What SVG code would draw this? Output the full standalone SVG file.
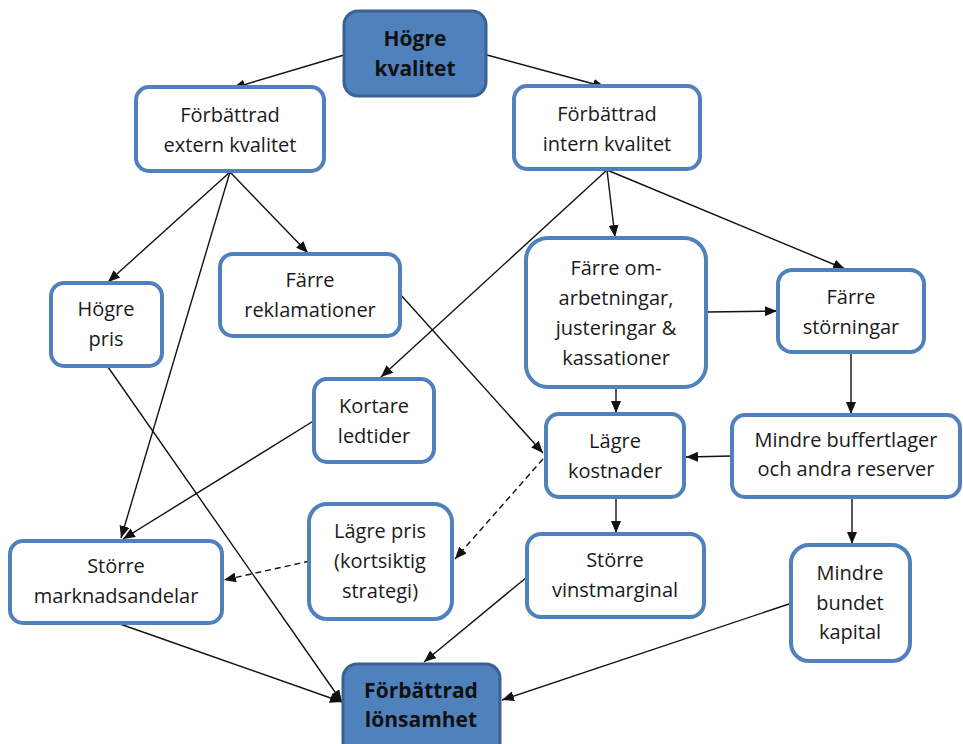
<svg xmlns="http://www.w3.org/2000/svg" width="963" height="744" viewBox="0 0 963 744">
  <style>
    .box { fill: #ffffff; stroke: #4f81bd; stroke-width: 4; }
    .key { fill: #4f81bd; stroke: #3b6190; stroke-width: 3; }
    .lbl { font-family: "Open Sans", "Liberation Sans", sans-serif; font-size: 20px; fill: #1a1a1a; text-anchor: middle; }
    .bold { font-weight: bold; font-size: 21px; fill: #111111; }
    .edge { stroke: #111111; stroke-width: 1.4; fill: none; marker-end: url(#arrow); }
    .dash { stroke-dasharray: 6 4; }
  </style>
  <defs>
    <marker id="arrow" viewBox="0 0 12 10" refX="12" refY="5" markerWidth="12" markerHeight="10" orient="auto" markerUnits="userSpaceOnUse">
      <path d="M0,0 L12,5 L0,10 z" fill="#111111"/>
    </marker>
  </defs>

  <rect width="963" height="744" fill="#ffffff"/>

  <!-- connectors -->
  <g id="connectors">
    <path class="edge" d="M344,55 L233,88"/>
    <path class="edge" d="M487,55 L605,87"/>
    <path class="edge" d="M230,172 L108,282"/>
    <path class="edge" d="M230,172 L308,253"/>
    <path class="edge" d="M230,172 L121,538"/>
    <path class="edge" d="M607,170 L381,377"/>
    <path class="edge" d="M607,170 L615,237"/>
    <path class="edge" d="M607,170 L845,269"/>
    <path class="edge" d="M108,367 L342,702"/>
    <path class="edge" d="M315,420 L123,539"/>
    <path class="edge" d="M400,294 L543,453"/>
    <path class="edge" d="M616,388 L616,413"/>
    <path class="edge" d="M707,312 L777,311"/>
    <path class="edge" d="M851,353 L851,414"/>
    <path class="edge" d="M732,456 L686,457"/>
    <path class="edge" d="M852,497 L852,544"/>
    <path class="edge" d="M616,498 L616,533"/>
    <path class="edge dash" d="M543,459 L455,559"/>
    <path class="edge dash" d="M310,561 L224,580"/>
    <path class="edge" d="M120,624 L342,702"/>
    <path class="edge" d="M527,577 L424,662"/>
    <path class="edge" d="M792,603 L502,700"/>
  </g>

  <!-- nodes -->
  <g id="hogre-kvalitet">
    <rect class="key" x="344" y="11" width="142" height="85" rx="14"/>
    <text class="lbl bold" x="415" y="46">Högre</text>
    <text class="lbl bold" x="415" y="76">kvalitet</text>
  </g>
  <g id="extern-kvalitet">
    <rect class="box" x="136" y="87" width="188" height="84" rx="13"/>
    <text class="lbl" x="230" y="122">Förbättrad</text>
    <text class="lbl" x="230" y="152">extern kvalitet</text>
  </g>
  <g id="intern-kvalitet">
    <rect class="box" x="514" y="86" width="186" height="83" rx="13"/>
    <text class="lbl" x="607" y="121">Förbättrad</text>
    <text class="lbl" x="607" y="151">intern kvalitet</text>
  </g>
  <g id="hogre-pris">
    <rect class="box" x="51" y="283" width="111" height="83" rx="13"/>
    <text class="lbl" x="106" y="316">Högre</text>
    <text class="lbl" x="106" y="346">pris</text>
  </g>
  <g id="farre-reklamationer">
    <rect class="box" x="220" y="254" width="180" height="82" rx="13"/>
    <text class="lbl" x="310" y="287">Färre</text>
    <text class="lbl" x="310" y="317">reklamationer</text>
  </g>
  <g id="kortare-ledtider">
    <rect class="box" x="314" y="379" width="120" height="83" rx="13"/>
    <text class="lbl" x="374" y="413">Kortare</text>
    <text class="lbl" x="374" y="443">ledtider</text>
  </g>
  <g id="farre-omarbetningar">
    <rect class="box" x="526" y="238" width="180" height="149" rx="22"/>
    <text class="lbl" x="616" y="275">Färre om-</text>
    <text class="lbl" x="616" y="305">arbetningar,</text>
    <text class="lbl" x="616" y="335">justeringar &amp;</text>
    <text class="lbl" x="616" y="365">kassationer</text>
  </g>
  <g id="farre-storningar">
    <rect class="box" x="778" y="270" width="146" height="82" rx="14"/>
    <text class="lbl" x="851" y="304">Färre</text>
    <text class="lbl" x="851" y="334">störningar</text>
  </g>
  <g id="lagre-kostnader">
    <rect class="box" x="546" y="414" width="138" height="83" rx="13"/>
    <text class="lbl" x="615" y="448">Lägre</text>
    <text class="lbl" x="615" y="478">kostnader</text>
  </g>
  <g id="mindre-buffertlager">
    <rect class="box" x="732" y="415" width="228" height="82" rx="13"/>
    <text class="lbl" x="846" y="447">Mindre buffertlager</text>
    <text class="lbl" x="846" y="476">och andra reserver</text>
  </g>
  <g id="storre-marknadsandelar">
    <rect class="box" x="10" y="541" width="212" height="82" rx="13"/>
    <text class="lbl" x="116" y="573">Större</text>
    <text class="lbl" x="116" y="603">marknadsandelar</text>
  </g>
  <g id="lagre-pris">
    <rect class="box" x="309" y="504" width="143" height="115" rx="18"/>
    <text class="lbl" x="380" y="538">Lägre pris</text>
    <text class="lbl" x="380" y="568">(kortsiktig</text>
    <text class="lbl" x="380" y="598">strategi)</text>
  </g>
  <g id="storre-vinstmarginal">
    <rect class="box" x="527" y="534" width="177" height="83" rx="14"/>
    <text class="lbl" x="615" y="567">Större</text>
    <text class="lbl" x="615" y="597">vinstmarginal</text>
  </g>
  <g id="mindre-bundet-kapital">
    <rect class="box" x="791" y="545" width="119" height="116" rx="18"/>
    <text class="lbl" x="850" y="580">Mindre</text>
    <text class="lbl" x="850" y="610">bundet</text>
    <text class="lbl" x="850" y="639">kapital</text>
  </g>
  <g id="forbattrad-lonsamhet">
    <rect class="key" x="343" y="664" width="157" height="92" rx="14"/>
    <text class="lbl bold" x="421" y="698">Förbättrad</text>
    <text class="lbl bold" x="421" y="727">lönsamhet</text>
  </g>
</svg>
